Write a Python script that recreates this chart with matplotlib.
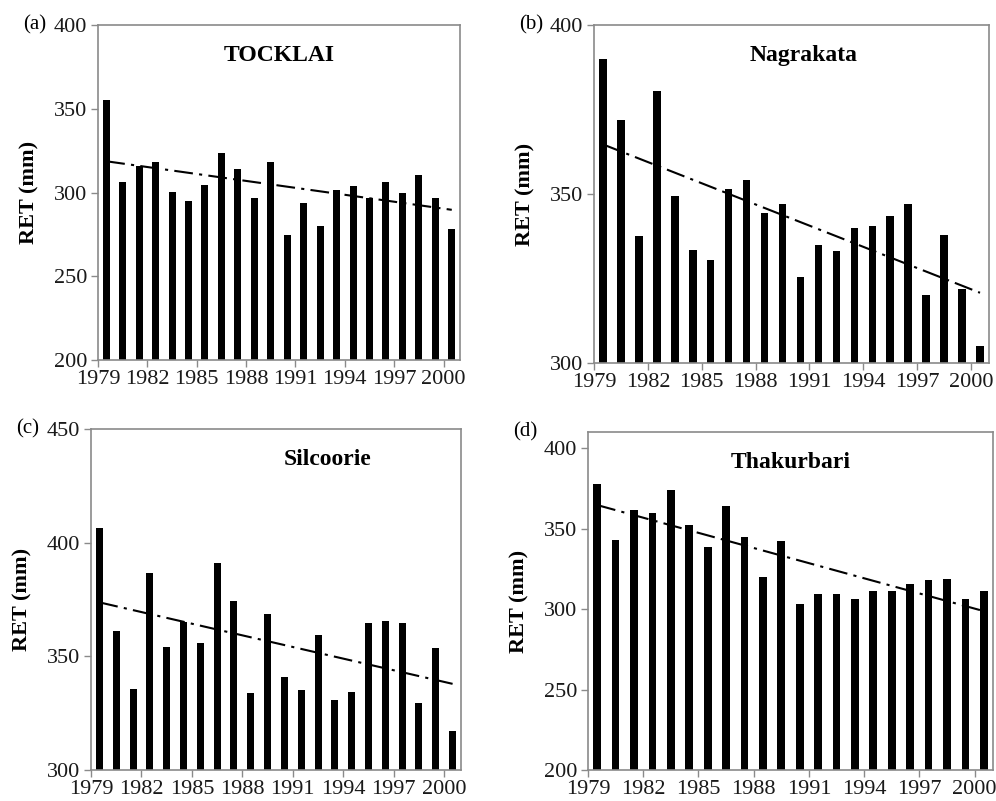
import matplotlib.pyplot as plt
import numpy as np

plt.rcParams["font.family"] = ["Liberation Serif", "DejaVu Serif"]

years = list(range(1979, 2001))
tick_years = [1979, 1982, 1985, 1988, 1991, 1994, 1997, 2000]

# RET (mm) per year
tocklai = [355, 306.5, 316, 318.5, 300.5, 295, 304.5, 323.5, 314, 297, 318,
           274.5, 294, 280, 301.5, 304, 297, 306, 300, 310.5, 297, 278.5]
nagrakata = [390, 372, 337.5, 380.5, 349.5, 333.5, 330.5, 351.5, 354, 344.5, 347,
             325.5, 335, 333, 340, 340.5, 343.5, 347, 320, 338, 322, 305]
silcoorie = [406.5, 361, 335.5, 386.5, 354, 365, 356, 391, 374.5, 334, 368.5,
             341, 335, 359.5, 331, 334.5, 364.5, 365.5, 364.5, 329.5, 353.5, 317]
thakurbari = [377.5, 343, 361.5, 359.5, 374, 352, 338.5, 364, 345, 320, 342,
              303, 309.5, 309.5, 306, 311, 311, 315.5, 318, 318.5, 306.5, 311]

panels = [
    # series, station, tag, y limits, axes box (px: left, top, right, bottom), title x
    (tocklai, "TOCKLAI", "(a)", (200, 400), (98, 25, 460, 360), 0.50),
    (nagrakata, "Nagrakata", "(b)", (300, 400), (594, 25, 989, 363), 0.53),
    (silcoorie, "Silcoorie", "(c)", (300, 450), (91, 429, 461, 770), 0.64),
    (thakurbari, "Thakurbari", "(d)", (200, 410), (588, 432, 993, 770), 0.50),
]

W, H = 996, 801
fig = plt.figure(figsize=(W / 100, H / 100), dpi=100)

x = np.arange(len(years)) + 0.5
tick_pos = [years.index(y) for y in tick_years]
frame = "#8a8a8a"

for values, station, tag, ylim, box, tx in panels:
    l, t, r, b = box
    ax = fig.add_axes([l / W, 1 - b / H, (r - l) / W, (b - t) / H])
    vals = np.array(values)
    ax.bar(x, vals - ylim[0], bottom=ylim[0], width=0.42, color="black")

    # linear trend over the full period
    k, c = np.polyfit(x, vals, 1)
    ax.plot([x[0], x[-1]], [k * x[0] + c, k * x[-1] + c], color="black",
            lw=1.5, linestyle=(0, (9, 3, 1.5, 3)))

    ax.set_xlim(0, len(years))
    ax.set_ylim(*ylim)
    ax.set_xticks(tick_pos)
    ax.set_xticklabels([str(y) for y in tick_years])
    ax.set_yticks(np.arange(ylim[0], min(ylim[1], 450) + 1, 50))
    ax.tick_params(axis="both", direction="out", length=5, width=1,
                   color=frame, labelsize=16, labelcolor="#1a1a1a")
    ax.tick_params(axis="x", pad=2)
    ax.tick_params(axis="y", pad=3)
    for s in ax.spines.values():
        s.set_color(frame)
        s.set_linewidth(1.2)

    ax.set_ylabel("RET (mm)", fontsize=16, fontweight="bold", labelpad=10)
    ax.text(tx, 0.91, station, transform=ax.transAxes, ha="center", va="center",
            fontsize=17, fontweight="bold")
    fig.text((l - 75) / W, 1 - t / H, tag, ha="left", va="center", fontsize=15)

fig.savefig("out.png", dpi=100)
